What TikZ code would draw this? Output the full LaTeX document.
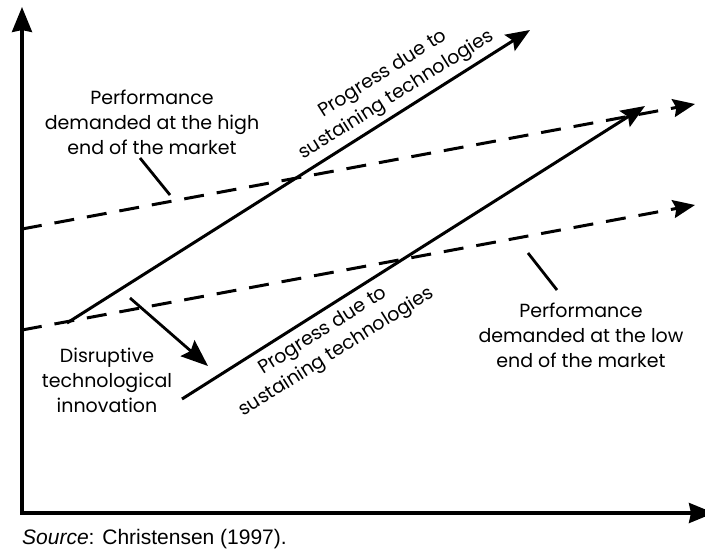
\documentclass[tikz,border=0pt]{standalone}
\usepackage{fontspec}
\setmainfont{Poppins}
\newfontfamily\srcfont{Liberation Sans}
\usetikzlibrary{arrows.meta}
\begin{document}
\begin{tikzpicture}[x=1pt,y=-1pt,
  axis/.style={line width=3.3pt, line join=miter, {Stealth[length=25pt,width=20pt,inset=2pt]}-{Stealth[length=25pt,width=20pt,inset=2pt]}},
  prog/.style={line width=3pt, -{Stealth[length=24pt,width=19pt,inset=4pt]}},
  demand/.style={line width=3pt, dash pattern=on 20pt off 13pt, -{Stealth[length=22pt,width=18pt,inset=3pt]}},
  disrupt/.style={line width=2.8pt, -{Stealth[length=27pt,width=21pt,inset=4pt]}},
  leader/.style={line width=2.8pt},
  lbl/.style={font=\fontsize{19}{25}\selectfont, align=center, inner sep=0pt},
  src/.style={font=\srcfont\fontsize{21}{24}\selectfont, inner sep=0pt}]
\useasboundingbox (0,0) rectangle (705,550);
\fill[white] (0,0) rectangle (705,550);
% axes
\coordinate (O) at (22,513);
\coordinate (ytip) at (22,7);
\coordinate (xtip) at (714,513);
\draw[axis] (ytip) -- (O) -- (xtip);
% demanded performance (dashed)
\coordinate (h0) at (22,229);
\coordinate (h1) at (695,104);
\coordinate (l0) at (22,330);
\coordinate (l1) at (695,205);
\draw[demand] (h0) -- (h1);
\draw[demand] (l0) -- (l1);
% progress lines
\coordinate (s0) at (67,323);
\coordinate (s1) at (530,30);
\coordinate (t0) at (182,399);
\coordinate (t1) at (645,106);
\draw[prog] (s0) -- (s1);
\draw[prog] (t0) -- (t1);
% disruptive arrow
\coordinate (d0) at (130,298);
\coordinate (d1) at (208,366);
\draw[disrupt] (d0) -- (d1);
% labels
\node[lbl] (hl) at (152,122) {Performance\\demanded at the high\\end of the market};
\coordinate (hlA) at (140,158);
\coordinate (hlB) at (170,195);
\draw[leader] (hlA) -- (hlB);
\node[lbl] (ll) at (581,335) {Performance\\demanded at the low\\end of the market};
\coordinate (llA) at (528,253);
\coordinate (llB) at (557,290);
\draw[leader] (llA) -- (llB);
\node[lbl] (dl) at (107,380) {Disruptive\\technological\\innovation};
\node[lbl, rotate=32.3] (pu) at (390,85) {Progress due to\\sustaining technologies};
\node[lbl, rotate=32.3] (pl) at (330,342) {Progress due to\\sustaining technologies};
\node[src, anchor=base west] (sr) at (22,544) {\textit{Source}: Christensen (1997).};
\end{tikzpicture}
\end{document}
